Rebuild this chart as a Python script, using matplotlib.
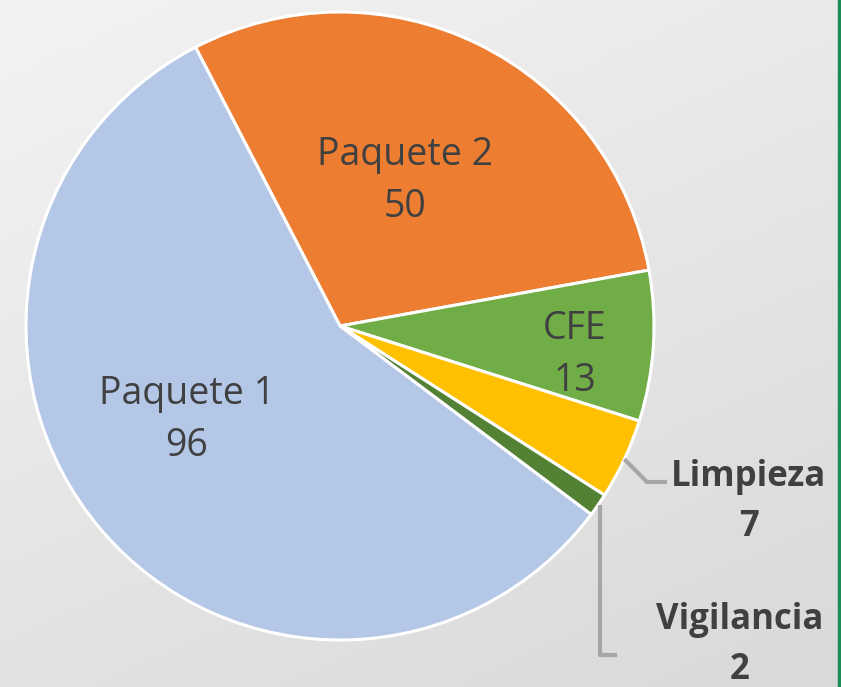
import numpy as np
import matplotlib.pyplot as plt
from matplotlib.colors import LinearSegmentedColormap

# Datos del gráfico
etiquetas = ['Paquete 2', 'CFE', 'Limpieza', 'Vigilancia', 'Paquete 1']
valores = [50, 13, 7, 2, 96]
colores = ['#ed7d31', '#70ad47', '#ffc000', '#548235', '#b4c7e7']

W, H = 841, 687
cx, cy, radio = 340, H - 326, 314

fig = plt.figure(figsize=(W / 100, H / 100), dpi=100)
ax = fig.add_axes([0, 0, 1, 1])

# Fondo con degradado gris (claro arriba a la izquierda)
gx, gy = np.meshgrid(np.linspace(0, 1, 200), np.linspace(0, 1, 200))
grad = 0.65 * gy + 0.35 * gx
ax.imshow(grad, extent=[0, W, 0, H], origin='upper',
          cmap=LinearSegmentedColormap.from_list('fondo', ['#f3f3f3', '#d9d9d9']),
          aspect='auto', zorder=0)

wedges, _ = ax.pie(valores, colors=colores, startangle=117.4, counterclock=False,
                   center=(cx, cy), radius=radio, frame=True,
                   wedgeprops=dict(edgecolor='white', linewidth=2.2))
ax.set_xlim(0, W)
ax.set_ylim(0, H)
ax.set_aspect('equal')
ax.axis('off')

font = 'Open Sans'
col_txt = '#404040'

# Etiquetas interiores
interiores = {'Paquete 2': (405, 181), 'CFE': (575, 355), 'Paquete 1': (187, 420)}
for w, et, v in zip(wedges, etiquetas, valores):
    if et in interiores:
        x, y = interiores[et]
        ax.text(x, H - y, f'{et}\n{v}', ha='center', va='center', fontsize=27,
                color=col_txt, family=font, linespacing=1.5)

# Etiquetas exteriores con líneas guía
gris = '#a6a6a6'
w_l = wedges[etiquetas.index('Limpieza')]
ang = np.deg2rad((w_l.theta1 + w_l.theta2) / 2)
x0, y0 = cx + radio * np.cos(ang), cy + radio * np.sin(ang)
ax.plot([x0, 647, 667], [y0, H - 482, H - 482], color=gris, lw=3, solid_capstyle='butt')
ax.text(749, H - 502, 'Limpieza\n7', ha='center', va='center', fontsize=25,
        color=col_txt, family=font, fontweight='bold', linespacing=1.55)

w_v = wedges[etiquetas.index('Vigilancia')]
ang = np.deg2rad((w_v.theta1 + w_v.theta2) / 2)
x0, y0 = cx + radio * np.cos(ang), cy + radio * np.sin(ang)
ax.plot([600, 600, 617], [y0, H - 655, H - 655], color=gris, lw=3, solid_capstyle='butt')
ax.text(740, H - 645, 'Vigilancia\n2', ha='center', va='center', fontsize=25,
        color=col_txt, family=font, fontweight='bold', linespacing=1.55)

# Borde verde a la derecha
ax.plot([839.5, 839.5], [0, H], color='#1e8a55', lw=2.5)

fig.savefig('out.png', dpi=100)
